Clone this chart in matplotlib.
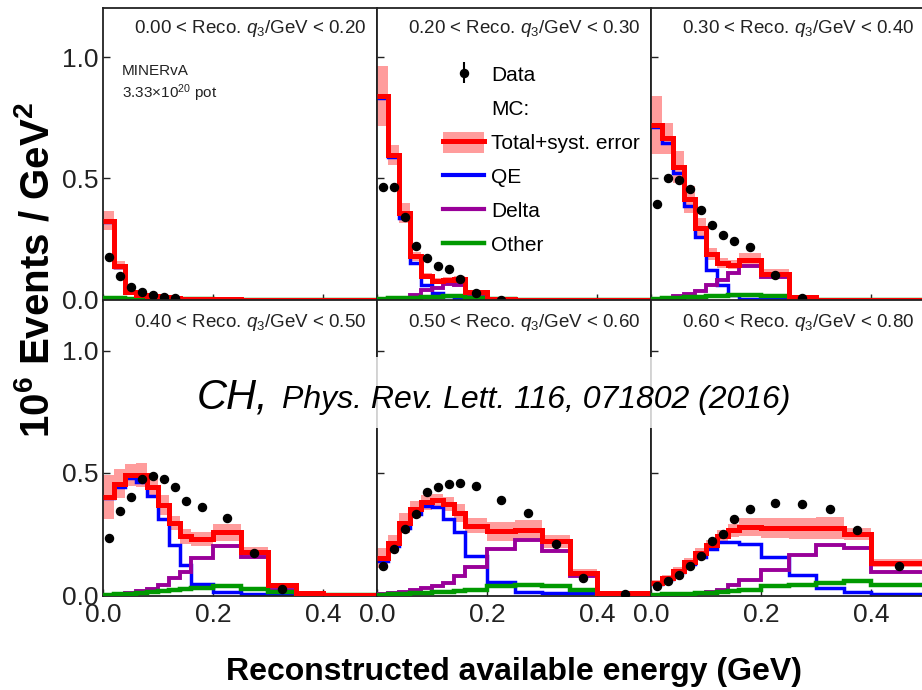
import numpy as np
import matplotlib
matplotlib.use("Agg")
import matplotlib.pyplot as plt
from matplotlib.patches import Patch, Rectangle
from matplotlib.lines import Line2D

plt.rcParams['font.family'] = ['Liberation Sans', 'DejaVu Sans']
plt.rcParams['mathtext.fontset'] = 'custom'
plt.rcParams['mathtext.rm'] = 'Liberation Sans'
plt.rcParams['mathtext.it'] = 'Liberation Sans:italic'
plt.rcParams['mathtext.bf'] = 'Liberation Sans:bold'

# available-energy binning (GeV) and bin centres for the data points
edges = [0.0, 0.02, 0.04, 0.06, 0.08, 0.10, 0.12, 0.14, 0.16, 0.20, 0.25, 0.30, 0.35, 0.40, 0.50]
centers = [0.01, 0.03, 0.05, 0.07, 0.09, 0.11, 0.13, 0.15, 0.18, 0.225, 0.275, 0.325, 0.375, 0.45]

# reco q3 slices, one panel each
q3_lo = ["0.00", "0.20", "0.30", "0.40", "0.50", "0.60"]
q3_hi = ["0.20", "0.30", "0.40", "0.50", "0.60", "0.80"]

nan = np.nan
data_vals = [
    [0.176, 0.099, 0.052, 0.033, 0.019, 0.012, 0.005, nan, nan, nan, nan, nan, nan, nan],
    [0.464, 0.464, 0.340, 0.222, 0.171, 0.140, 0.126, 0.085, 0.027, 0.0, nan, nan, nan, nan],
    [0.395, 0.500, 0.494, 0.455, 0.370, 0.309, 0.267, 0.240, 0.217, 0.103, 0.005, nan, nan, nan],
    [0.232, 0.345, 0.400, 0.473, 0.489, 0.473, 0.441, 0.383, 0.359, 0.316, 0.171, 0.025, nan, nan],
    [0.120, 0.190, 0.270, 0.330, 0.420, 0.440, 0.455, 0.460, 0.445, 0.390, 0.336, 0.210, 0.070, 0.004],
    [0.036, 0.059, 0.082, 0.120, 0.159, 0.219, 0.250, 0.311, 0.352, 0.377, 0.373, 0.350, 0.264, 0.117],
]
total_vals = [
    [0.326, 0.140, 0.033, 0.020, 0.015, 0.010, 0.007, 0.003, 0.002, 0.001, 0.0, 0.0, 0.0, 0.0],
    [0.840, 0.597, 0.357, 0.178, 0.096, 0.075, 0.080, 0.085, 0.030, 0.001, 0.0, 0.0, 0.0, 0.0],
    [0.720, 0.665, 0.546, 0.414, 0.295, 0.189, 0.151, 0.144, 0.165, 0.107, 0.011, 0.0, 0.0, 0.0],
    [0.400, 0.455, 0.493, 0.490, 0.440, 0.369, 0.295, 0.240, 0.229, 0.257, 0.175, 0.041, 0.008, 0.0],
    [0.150, 0.213, 0.295, 0.350, 0.380, 0.390, 0.373, 0.336, 0.284, 0.260, 0.266, 0.220, 0.090, 0.010],
    [0.049, 0.068, 0.100, 0.134, 0.172, 0.205, 0.240, 0.264, 0.277, 0.275, 0.274, 0.274, 0.250, 0.131],
]
total_err = [
    [0.041, 0.018, 0.008, 0.005, 0.004, 0.003, 0.002, 0.001, 0.001, 0.0, 0.0, 0.0, 0.0, 0.0],
    [0.125, 0.040, 0.043, 0.020, 0.012, 0.012, 0.012, 0.012, 0.008, 0.0, 0.0, 0.0, 0.0, 0.0],
    [0.120, 0.065, 0.065, 0.055, 0.040, 0.025, 0.020, 0.020, 0.026, 0.020, 0.005, 0.0, 0.0, 0.0],
    [0.090, 0.060, 0.045, 0.050, 0.045, 0.040, 0.030, 0.030, 0.030, 0.035, 0.020, 0.010, 0.003, 0.0],
    [0.041, 0.033, 0.040, 0.034, 0.031, 0.025, 0.030, 0.037, 0.032, 0.038, 0.041, 0.027, 0.018, 0.007],
    [0.012, 0.014, 0.016, 0.018, 0.020, 0.022, 0.024, 0.026, 0.037, 0.040, 0.043, 0.045, 0.025, 0.015],
]
qe_vals = [
    [0.318, 0.135, 0.030, 0.016, 0.012, 0.008, 0.004, 0.001, 0.001, 0.0, 0.0, 0.0, 0.0, 0.0],
    [0.830, 0.590, 0.336, 0.151, 0.062, 0.027, 0.014, 0.008, 0.002, 0.0, 0.0, 0.0, 0.0, 0.0],
    [0.710, 0.647, 0.524, 0.384, 0.258, 0.120, 0.058, 0.020, 0.004, 0.004, 0.001, 0.0, 0.0, 0.0],
    [0.396, 0.440, 0.480, 0.464, 0.407, 0.311, 0.205, 0.123, 0.045, 0.012, 0.005, 0.005, 0.0, 0.0],
    [0.140, 0.200, 0.273, 0.330, 0.363, 0.360, 0.310, 0.257, 0.158, 0.052, 0.014, 0.010, 0.010, 0.0],
    [0.045, 0.064, 0.095, 0.125, 0.154, 0.190, 0.216, 0.216, 0.209, 0.154, 0.082, 0.027, 0.011, 0.004],
]
delta_vals = [
    [0.0, 0.0, 0.001, 0.002, 0.002, 0.002, 0.002, 0.001, 0.001, 0.0, 0.0, 0.0, 0.0, 0.0],
    [0.0, 0.003, 0.008, 0.020, 0.040, 0.048, 0.066, 0.058, 0.020, 0.0, 0.0, 0.0, 0.0, 0.0],
    [0.0, 0.002, 0.014, 0.022, 0.036, 0.058, 0.082, 0.110, 0.140, 0.093, 0.003, 0.0, 0.0, 0.0],
    [0.002, 0.004, 0.008, 0.015, 0.026, 0.040, 0.068, 0.096, 0.150, 0.200, 0.154, 0.020, 0.0, 0.0],
    [0.003, 0.008, 0.014, 0.020, 0.028, 0.036, 0.050, 0.077, 0.113, 0.189, 0.227, 0.180, 0.077, 0.0],
    [0.0, 0.0, 0.002, 0.004, 0.010, 0.014, 0.020, 0.041, 0.063, 0.104, 0.164, 0.205, 0.191, 0.096],
]
other_vals = [
    [0.006, 0.006, 0.003, 0.003, 0.002, 0.002, 0.001, 0.001, 0.001, 0.0, 0.0, 0.0, 0.0, 0.0],
    [0.004, 0.005, 0.006, 0.008, 0.010, 0.012, 0.013, 0.013, 0.008, 0.002, 0.0, 0.0, 0.0, 0.0],
    [0.004, 0.006, 0.008, 0.010, 0.012, 0.014, 0.016, 0.018, 0.018, 0.016, 0.004, 0.0, 0.0, 0.0],
    [0.002, 0.004, 0.006, 0.010, 0.014, 0.018, 0.022, 0.026, 0.030, 0.035, 0.025, 0.012, 0.0, 0.0],
    [0.002, 0.004, 0.006, 0.008, 0.010, 0.012, 0.014, 0.016, 0.020, 0.035, 0.040, 0.035, 0.020, 0.0],
    [0.002, 0.003, 0.004, 0.006, 0.008, 0.010, 0.012, 0.015, 0.020, 0.036, 0.041, 0.049, 0.059, 0.041],
]

RED = '#ff0000'
BAND = '#ff9c9c'
BLUE = '#0000ff'
PURPLE = '#990099'
GREEN = '#009900'
INK = '#222222'

W, H = 922, 690
fig = plt.figure(figsize=(W / 100, H / 100), dpi=100)

# panel geometry in pixels: left edges, width, (top, bottom) per row
col_x = [103, 377, 651]
pw = 274
rows_y = [(7.5, 300.5), (300.5, 596)]

axes = []
for i in range(6):
    r, c = divmod(i, 3)
    top, bot = rows_y[r]
    ax = fig.add_axes([col_x[c] / W, 1 - bot / H, pw / W, (bot - top) / H])
    axes.append(ax)

    tot = np.array(total_vals[i])
    err = np.array(total_err[i])
    ax.stairs(tot + err, edges, baseline=tot - err, fill=True, color=BAND, lw=0, zorder=1)
    ax.stairs(qe_vals[i], edges, baseline=None, color=BLUE, lw=2.5, zorder=2)
    ax.stairs(delta_vals[i], edges, baseline=None, color=PURPLE, lw=2.8, zorder=3)
    ax.stairs(other_vals[i], edges, baseline=None, color=GREEN, lw=3.2, zorder=4)
    ax.stairs(tot, edges, baseline=None, color=RED, lw=3.6, zorder=5)
    ax.plot(centers, data_vals[i], 'o', color='black', ms=5.8, zorder=6)

    ax.set_xlim(0, 0.498)
    ax.set_ylim(-0.004, 1.205)
    ax.set_xticks([0.0, 0.2, 0.4])
    ax.set_xticklabels(['0.0', '0.2', '0.4'])
    ax.set_yticks([0.0, 0.5, 1.0])
    ax.set_yticklabels(['0.0', '0.5', '1.0'])
    ax.tick_params(direction='in', length=5, width=1, labelsize=19, colors=INK)
    ax.tick_params(axis='y', pad=3.5)
    ax.tick_params(axis='x', pad=5)
    if c != 0:
        ax.tick_params(labelleft=False)
    if r == 0:
        ax.tick_params(labelbottom=False)
    for sp in ax.spines.values():
        sp.set_linewidth(1.3)
        sp.set_color(INK)

    ax.text(0.962, 0.912, f"{q3_lo[i]} < Reco. $q_3$/GeV < {q3_hi[i]}",
            transform=ax.transAxes, ha='right', va='baseline', fontsize=13.5, color=INK)

axes[0].text(0.07, 0.77, "MINERvA", transform=axes[0].transAxes, fontsize=11,
             va='baseline', color=INK)
axes[0].text(0.07, 0.692, "3.33×10$^{20}$ pot", transform=axes[0].transAxes, fontsize=11,
             va='baseline', color=INK)

# legend in the second panel
data_h = axes[1].errorbar([], [], yerr=[], fmt='o', color='black', ms=5.8, elinewidth=1.5)
handles = [
    data_h,
    Line2D([], [], linestyle='none'),
    (Patch(facecolor=BAND, edgecolor='none'), Line2D([], [], color=RED, lw=3.6)),
    Line2D([], [], color=BLUE, lw=3.0),
    Line2D([], [], color=PURPLE, lw=3.0),
    Line2D([], [], color=GREEN, lw=3.2),
]
labels = ['Data', 'MC:', 'Total+syst. error', 'QE', 'Delta', 'Other']
axes[1].legend(handles, labels, loc='upper left', bbox_to_anchor=(0.241, 0.808),
               frameon=False, fontsize=15, handlelength=1.97, handleheight=1.2,
               labelspacing=0.59, handletextpad=0.34, borderpad=0, borderaxespad=0)

# reference band across the lower row
fig.add_artist(Rectangle((104 / W, 1 - 428 / H), (W - 104) / W, 71 / H,
                         transform=fig.transFigure, facecolor='white', alpha=0.8,
                         edgecolor='none', zorder=10))
fig.text(197 / W, 1 - 408 / H, "CH,", fontsize=30, style='italic',
         va='baseline', zorder=11)
fig.text(282 / W, 1 - 408 / H, "Phys. Rev. Lett. 116, 071802 (2016)", fontsize=23,
         style='italic', va='baseline', zorder=11)

fig.text(37 / W, 1 - 270 / H, r"10$^{\mathbf{6}}$ Events / GeV$^{\mathbf{2}}$", rotation=90,
         fontsize=29, fontweight='bold', ha='center', va='center')
fig.text(514 / W, 1 - 680 / H, "Reconstructed available energy (GeV)", fontsize=23,
         fontweight='bold', ha='center', va='baseline')

fig.savefig("out.png", dpi=100)
